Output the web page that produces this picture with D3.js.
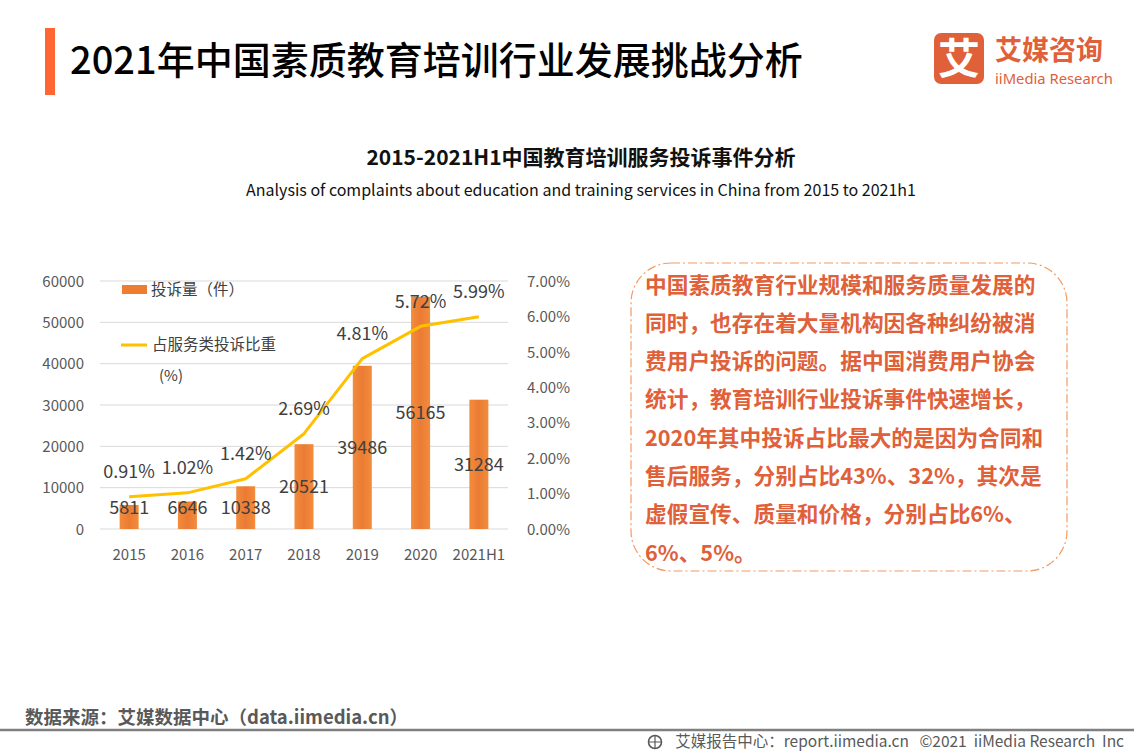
<!DOCTYPE html>
<html><head><meta charset="utf-8">
<script src="https://cdn.jsdelivr.net/npm/d3@7"></script>
<style>
html,body{margin:0;padding:0;background:#fff;}
svg{display:block;font-family:"Noto Sans CJK SC","Noto Sans",sans-serif;}
</style></head>
<body><svg id="c" width="1134" height="756"></svg>
<script>
const categories = ["2015","2016","2017","2018","2019","2020","2021H1"];
const complaints = [5811, 6646, 10338, 20521, 39486, 56165, 31284];
const shares = [0.91, 1.02, 1.42, 2.69, 4.81, 5.72, 5.99];
const leftTicks = [0,10000,20000,30000,40000,50000,60000];
const rightTicks = [0,1,2,3,4,5,6,7];
const textLines = [
 "中国素质教育行业规模和服务质量发展的",
 "同时，也存在着大量机构因各种纠纷被消",
 "费用户投诉的问题。据中国消费用户协会",
 "统计，教育培训行业投诉事件快速增长，",
 "2020年其中投诉占比最大的是因为合同和",
 "售后服务，分别占比43%、32%，其次是",
 "虚假宣传、质量和价格，分别占比6%、",
 "6%、5%。"
];

const svg = d3.select("#c");
const grey = "#595959", dark = "#404040", orange = "#ED7D31", accent = "#E0603A";

// header
svg.append("rect").attr("x",45).attr("y",28).attr("width",10).attr("height",67).attr("fill","#FF6633");
svg.append("text").attr("x",70).attr("y",74).attr("font-size",38).attr("font-weight",500).attr("fill","#000")
  .text("2021年中国素质教育培训行业发展挑战分析");

// logo
const logo = svg.append("g");
logo.append("rect").attr("x",934).attr("y",33).attr("width",50).attr("height",51).attr("rx",7).attr("fill",accent);
logo.append("text").attr("x",959).attr("y",74).attr("text-anchor","middle").attr("font-size",42).attr("font-weight",700).attr("fill","#fff").text("艾");
logo.append("text").attr("x",995).attr("y",60).attr("font-size",27).attr("font-weight",700).attr("fill",accent).text("艾媒咨询");
logo.append("text").attr("x",995).attr("y",84).attr("font-size",14.8).attr("font-family","'Noto Sans',sans-serif").attr("fill",accent).text("iiMedia Research");

// subtitle
svg.append("text").attr("x",581).attr("y",165).attr("text-anchor","middle").attr("font-size",21).attr("font-weight",700).attr("fill","#111")
  .text("2015-2021H1中国教育培训服务投诉事件分析");
svg.append("text").attr("x",581).attr("y",196).attr("text-anchor","middle").attr("font-size",16).attr("fill","#111")
  .text("Analysis of complaints about education and training services in China from 2015 to 2021h1");

// scales
const x = d3.scaleBand().domain(categories).range([100,508]).paddingInner(0.674).paddingOuter(0.337);
const y = d3.scaleLinear().domain([0,60000]).range([529,281]);
const y2 = d3.scaleLinear().domain([0,7]).range([529,281]);

// gridlines
svg.append("g").selectAll("line").data(leftTicks).join("line")
  .attr("x1",100).attr("x2",508).attr("y1",d=>y(d)).attr("y2",d=>y(d))
  .attr("stroke","#D9D9D9").attr("stroke-width",1);

// axes
const ax = svg.append("g").attr("transform","translate(84,0)")
  .call(d3.axisLeft(y).tickValues(leftTicks).tickSize(0).tickPadding(0).tickFormat(d3.format("d")));
const ax2 = svg.append("g").attr("transform","translate(527,0)")
  .call(d3.axisRight(y2).tickValues(rightTicks).tickSize(0).tickPadding(0).tickFormat(d=>d.toFixed(2)+"%"));
const axb = svg.append("g").attr("transform","translate(0,555)")
  .call(d3.axisBottom(x).tickSize(0).tickPadding(0));
[ax,ax2,axb].forEach(a=>{
  a.select(".domain").remove();
  a.selectAll("text").attr("font-size",15).attr("fill",grey).attr("font-family",'"Noto Sans CJK SC","Noto Sans",sans-serif');
});
ax.selectAll("text").attr("dy","0.35em");
ax2.selectAll("text").attr("dy","0.35em");
axb.selectAll("text").attr("dy","0.35em");

// bars
const grad = svg.append("defs").append("linearGradient").attr("id","bg").attr("x1","0").attr("x2","1");
grad.append("stop").attr("offset","0%").attr("stop-color","#F28C3C");
grad.append("stop").attr("offset","50%").attr("stop-color","#EB7B34");
grad.append("stop").attr("offset","100%").attr("stop-color","#F28C3C");
svg.append("g").selectAll("rect").data(complaints).join("rect")
  .attr("x",(d,i)=>x(categories[i])).attr("width",x.bandwidth())
  .attr("y",d=>y(d)).attr("height",d=>y(0)-y(d)).attr("fill","url(#bg)");

// line
const line = d3.line().x((d,i)=>x(categories[i])+x.bandwidth()/2).y(d=>y2(d)).curve(d3.curveLinear);
svg.append("path").datum(shares).attr("d",line).attr("fill","none").attr("stroke","#FFC000").attr("stroke-width",3).attr("stroke-linejoin","round");

// bar labels
svg.append("g").selectAll("text").data(complaints).join("text")
  .attr("x",(d,i)=>x(categories[i])+x.bandwidth()/2)
  .attr("y",d=>Math.min((y(d)+y(0))/2, y(0)-21))
  .attr("dy","0.35em").attr("text-anchor","middle").attr("font-size",18).attr("fill",dark).text(d=>d);

// share labels
svg.append("g").selectAll("text").data(shares).join("text")
  .attr("x",(d,i)=>x(categories[i])+x.bandwidth()/2)
  .attr("y",d=>y2(d)-25)
  .attr("dy","0.35em").attr("text-anchor","middle").attr("font-size",18).attr("fill",dark).text(d=>d.toFixed(2)+"%");

// legend
const lg = svg.append("g");
lg.append("rect").attr("x",122).attr("y",285).attr("width",25).attr("height",9).attr("fill",orange);
lg.append("text").attr("x",151).attr("y",290).attr("dy","0.35em").attr("font-size",15.5).attr("fill",dark).text("投诉量（件）");
lg.append("line").attr("x1",121).attr("x2",147).attr("y1",345).attr("y2",345).attr("stroke","#FFC000").attr("stroke-width",3);
lg.append("text").attr("x",152).attr("y",345).attr("dy","0.35em").attr("font-size",15.5).attr("fill",dark).text("占服务类投诉比重");
lg.append("text").attr("x",159).attr("y",376).attr("dy","0.35em").attr("font-size",15).attr("fill",dark).text("(%)");

// text box
svg.append("rect").attr("x",631).attr("y",263).attr("width",436).attr("height",308).attr("rx",40).attr("ry",40)
  .attr("fill","none").attr("stroke","#F29A62").attr("stroke-width",1.2).attr("stroke-dasharray","9,3,2,3");
svg.append("g").selectAll("text").data(textLines).join("text")
  .attr("x",645).attr("y",(d,i)=>285+i*38.3).attr("dy","0.35em")
  .attr("font-size",21.7).attr("font-weight",700).attr("fill",accent).text(d=>d);

// footer
svg.append("text").attr("x",25).attr("y",718).attr("dy","0.35em").attr("font-size",18.5).attr("font-weight",700).attr("fill",grey)
  .text("数据来源：艾媒数据中心（data.iimedia.cn）");
svg.append("line").attr("x1",0).attr("x2",1134).attr("y1",730).attr("y2",730).attr("stroke","#808080").attr("stroke-width",2.5);
const ic = svg.append("g").attr("transform","translate(655,742)");
ic.append("circle").attr("r",6.5).attr("fill","none").attr("stroke",grey).attr("stroke-width",1.6);
ic.append("path").attr("d","M-6,0H6M0,-6V6").attr("stroke",grey).attr("stroke-width",1.2);
svg.append("text").attr("x",1124).attr("y",742).attr("dy","0.35em").attr("text-anchor","end").attr("font-size",15.5).attr("fill",grey)
  .style("white-space","pre")
  .text("艾媒报告中心：report.iimedia.cn   ©2021  iiMedia Research  Inc");
</script></body></html>
